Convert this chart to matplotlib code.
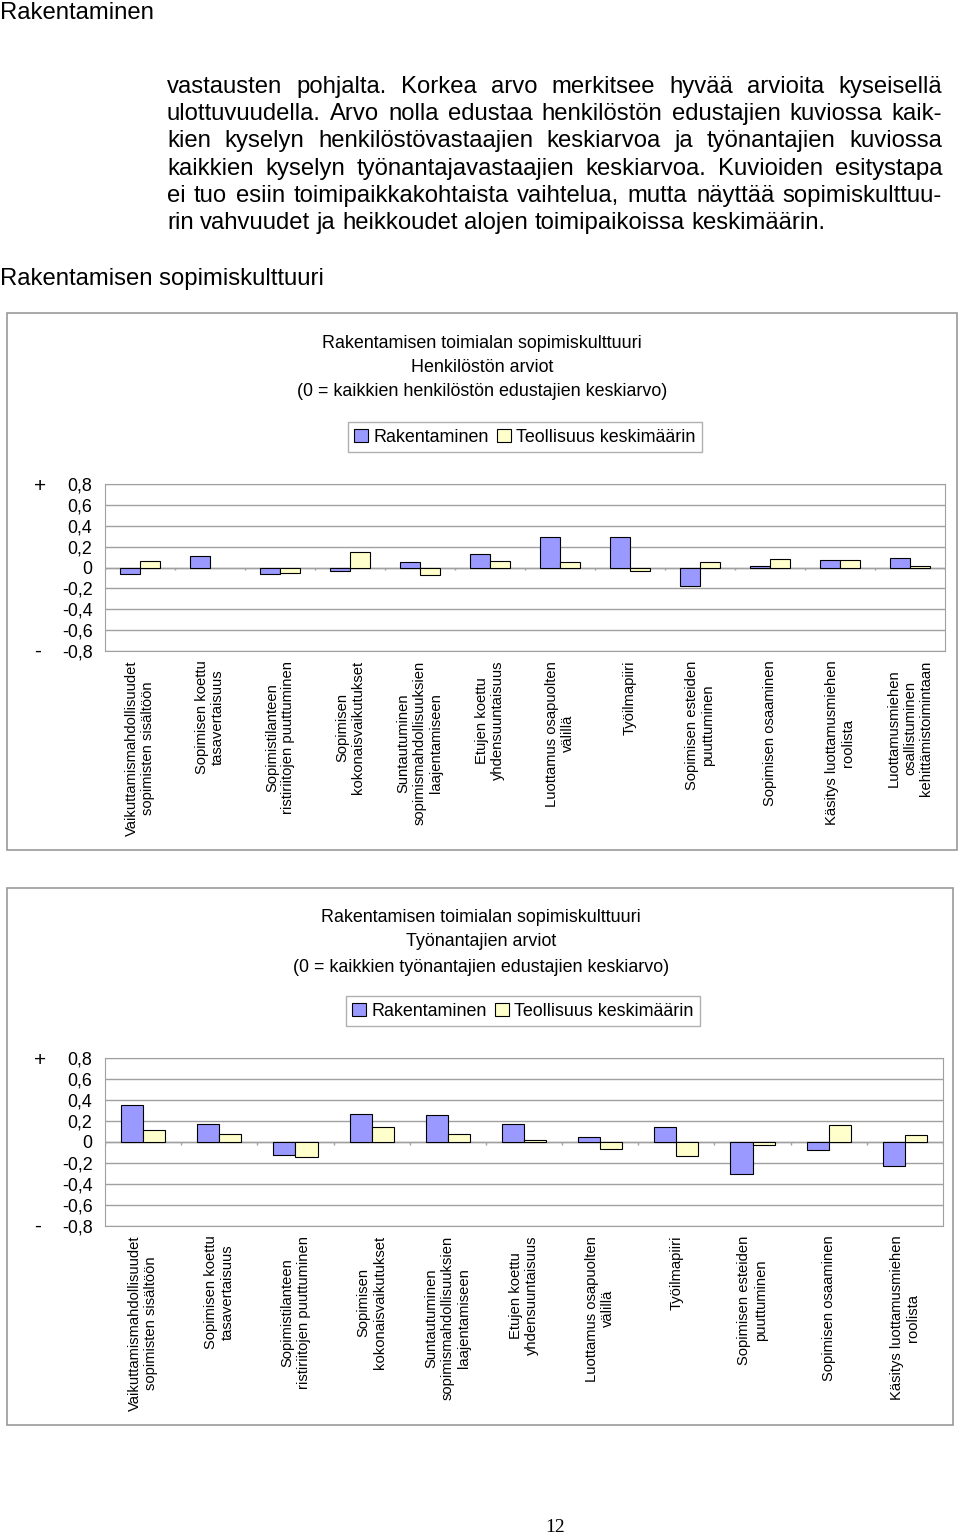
import numpy as np
import matplotlib
matplotlib.use('Agg')
import matplotlib.pyplot as plt
from matplotlib.patches import Rectangle, Patch

plt.rcParams['font.family'] = ['Liberation Sans', 'DejaVu Sans']

W, H = 960, 1538

# tekstit
page_header = "Rakentaminen"
section_title = "Rakentamisen sopimiskulttuuri"
paragraph = [
    "vastausten pohjalta. Korkea arvo merkitsee hyvää arvioita kyseisellä",
    "ulottuvuudella. Arvo nolla edustaa henkilöstön edustajien kuviossa kaik-",
    "kien kyselyn henkilöstövastaajien keskiarvoa ja työnantajien kuviossa",
    "kaikkien kyselyn työnantajavastaajien keskiarvoa. Kuvioiden esitystapa",
    "ei tuo esiin toimipaikkakohtaista vaihtelua, mutta näyttää sopimiskulttuu-",
    "rin vahvuudet ja heikkoudet alojen toimipaikoissa keskimäärin.",
]

categories = [
    "Vaikuttamismahdollisuudet\nsopimisten sisältöön",
    "Sopimisen koettu\ntasavertaisuus",
    "Sopimistilanteen\nristiriitojen puuttuminen",
    "Sopimisen\nkokonaisvaikutukset",
    "Suntautuminen\nsopimismahdollisuuksien\nlaajentamiseen",
    "Etujen koettu\nyhdensuuntaisuus",
    "Luottamus osapuolten\nvälillä",
    "Työilmapiiri",
    "Sopimisen esteiden\npuuttuminen",
    "Sopimisen osaaminen",
    "Käsitys luottamusmiehen\nroolista",
    "Luottamusmiehen\nosallistuminen\nkehittämistoimintaan",
]

series_names = ["Rakentaminen", "Teollisuus keskimäärin"]

# henkilöstön arviot (12 kategoriaa)
henk_rak = [-0.06, 0.11, -0.06, -0.03, 0.05, 0.13, 0.29, 0.29, -0.18, 0.01, 0.07, 0.09]
henk_teo = [0.06, np.nan, -0.05, 0.15, -0.07, 0.06, 0.05, -0.03, 0.05, 0.08, 0.07, 0.01]

# työnantajien arviot (11 kategoriaa)
tyon_rak = [0.35, 0.17, -0.12, 0.27, 0.26, 0.17, 0.05, 0.14, -0.30, -0.08, -0.23]
tyon_teo = [0.11, 0.08, -0.14, 0.14, 0.08, 0.02, -0.07, -0.13, -0.03, 0.16, 0.07]

title1 = ["Rakentamisen toimialan sopimiskulttuuri", "Henkilöstön arviot",
          "(0 = kaikkien henkilöstön edustajien keskiarvo)"]
title2 = ["Rakentamisen toimialan sopimiskulttuuri", "Työnantajien arviot",
          "(0 = kaikkien työnantajien edustajien keskiarvo)"]

yticks = [-0.8, -0.6, -0.4, -0.2, 0, 0.2, 0.4, 0.6, 0.8]
ytick_labels = ["-0,8", "-0,6", "-0,4", "-0,2", "0", "0,2", "0,4", "0,6", "0,8"]

BLUE = '#9999FF'
YELLOW = '#FFFFCC'
GRAY = '#a0a0a0'
TXT = 17.2
CH = 12.9


def fx(x):
    return x / W


def fy(y):
    return 1 - y / H


fig = plt.figure(figsize=(W / 100, H / 100), dpi=100)
renderer = fig.canvas.get_renderer()

fig.text(fx(0), fy(13), page_header, fontsize=TXT, va='center', ha='left')
fig.text(fx(0), fy(279), section_title, fontsize=TXT, va='center', ha='left')

# tasattu kappale
x0, x1 = 167, 942
line_y = [87, 114, 141, 169, 196, 223]
for i, line in enumerate(paragraph):
    words = line.split()
    ts = [fig.text(0, fy(line_y[i]), w, fontsize=TXT, va='center', ha='left') for w in words]
    widths = [t.get_window_extent(renderer).width for t in ts]
    if i == len(paragraph) - 1:
        a1 = fig.text(0, 0, "a a", fontsize=TXT)
        a2 = fig.text(0, 0, "aa", fontsize=TXT)
        gap = a1.get_window_extent(renderer).width - a2.get_window_extent(renderer).width
        a1.remove()
        a2.remove()
    else:
        gap = (x1 - x0 - sum(widths)) / (len(words) - 1)
    x = x0
    for t, w in zip(ts, widths):
        t.set_x(fx(x))
        x += w + gap


def draw_chart(box, title_lines, title_y, title_x, legend_xy, ax_rect, labels, rak, teo, sign_y):
    bx0, by0, bx1, by1 = box
    fig.patches.append(Rectangle((fx(bx0), fy(by1)), fx(bx1 - bx0), (by1 - by0) / H,
                                 transform=fig.transFigure, fill=False,
                                 edgecolor='#999999', lw=1.2))
    for ty, tl in zip(title_y, title_lines):
        fig.text(fx(title_x), fy(ty), tl, fontsize=CH, ha='center', va='center')

    ax = fig.add_axes([fx(ax_rect[0]), fy(ax_rect[3]), fx(ax_rect[2] - ax_rect[0]),
                       (ax_rect[3] - ax_rect[1]) / H])
    n = len(labels)
    xs = np.arange(n)
    bw = 0.29
    ax.bar(xs - bw / 2, rak, bw, color=BLUE, edgecolor='black', lw=0.8, zorder=3)
    ax.bar(xs + bw / 2, teo, bw, color=YELLOW, edgecolor='black', lw=0.8, zorder=3)
    ax.set_xlim(-0.5, n - 0.5)
    ax.set_ylim(-0.8, 0.8)
    ax.set_yticks(yticks)
    ax.set_yticklabels(ytick_labels, fontsize=CH)
    ax.tick_params(axis='y', length=0, pad=9)
    ax.yaxis.grid(True, color=GRAY, lw=1)
    ax.set_axisbelow(True)
    ax.axhline(0, color=GRAY, lw=1, zorder=2)
    ax.vlines(np.arange(n + 1) - 0.5, -0.025, 0, color=GRAY, lw=1, zorder=2)
    for s in ax.spines.values():
        s.set_color(GRAY)
    ax.set_xticks(xs)
    ax.set_xticklabels(labels, rotation=90, fontsize=10.6, ha='center', va='top',
                       multialignment='center')
    ax.tick_params(axis='x', length=0, pad=7)

    fig.text(fx(40), fy(sign_y[0]), "+", fontsize=15, ha='center', va='center')
    fig.text(fx(38), fy(sign_y[1]), "-", fontsize=15, ha='center', va='center')

    handles = [Patch(facecolor=BLUE, edgecolor='black', lw=0.8),
               Patch(facecolor=YELLOW, edgecolor='black', lw=0.8)]
    fig.legend(handles, series_names, loc='center', ncol=2,
               bbox_to_anchor=(fx(legend_xy[0]), fy(legend_xy[1])),
               fontsize=CH, frameon=True, fancybox=False, edgecolor='#b0b0b0',
               handlelength=0.75, handleheight=0.75, handletextpad=0.3,
               columnspacing=0.5, borderpad=0.35, framealpha=1)


draw_chart((7, 313, 957, 850), title1, [343, 367, 392], 482, (525, 437),
           (105, 484, 945, 651), categories, henk_rak, henk_teo, (486, 651))
draw_chart((7, 888, 953, 1425), title2, [917, 942, 967], 481, (523, 1011),
           (105, 1058, 943, 1226), categories[:11], tyon_rak, tyon_teo, (1061, 1226))

fig.text(fx(555), fy(1527), "12", fontsize=14, ha='center', va='center',
         family=['Liberation Serif', 'DejaVu Serif'])

fig.savefig('out.png', dpi=100)
